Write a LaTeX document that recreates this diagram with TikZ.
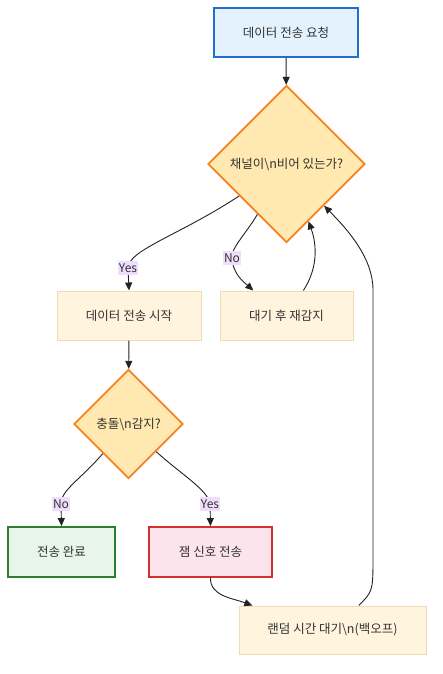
\documentclass[tikz,border=0pt]{standalone}
\usepackage{fontspec}
\setmainfont{Noto Sans CJK KR}
\usetikzlibrary{shapes.geometric,arrows.meta}
\definecolor{txt}{HTML}{333333}
\definecolor{bluef}{HTML}{E3F2FD}
\definecolor{blued}{HTML}{1E6FD0}
\definecolor{diaf}{HTML}{FFE9B0}
\definecolor{diad}{HTML}{F5821F}
\definecolor{plainf}{HTML}{FFF4DD}
\definecolor{plaind}{HTML}{EEDDB0}
\definecolor{greenf}{HTML}{E8F5E9}
\definecolor{greend}{HTML}{2E7D32}
\definecolor{redf}{HTML}{FCE4EC}
\definecolor{redd}{HTML}{D32F2F}
\definecolor{lblf}{HTML}{F0DDFC}
\definecolor{edgec}{HTML}{222222}
\begin{document}
\begin{tikzpicture}[x=1pt,y=1pt,
  font=\fontsize{12.5}{15}\selectfont,
  every node/.style={text=txt},
  boxn/.style={rectangle, inner sep=0pt, align=center},
  plainbox/.style={boxn, fill=plainf, draw=plaind, line width=1pt},
  diam/.style={diamond, inner sep=0pt, align=center, fill=diaf, draw=diad, line width=1.8pt},
  lbl/.style={fill=lblf, inner xsep=0.8pt, inner ysep=3pt, font=\fontsize{12}{14}\selectfont},
  arr/.style={draw=edgec, line width=0.9pt, -{Triangle[length=8pt,width=7pt]}}
]
\useasboundingbox (0,0) rectangle (442,-674);

\node[boxn, fill=bluef, draw=blued, line width=1.8pt, minimum width=144, minimum height=49] (req) at (286,-32.5) {데이터 전송 요청};
\node[diam, minimum width=157, minimum height=157] (d1) at (286.5,-164) {채널이\textbackslash n비어 있는가?};
\node[plainbox, minimum width=144, minimum height=49] (start) at (129,-315.5) {데이터 전송 시작};
\node[plainbox, minimum width=133, minimum height=49] (wait) at (286.5,-315.5) {대기 후 재감지};
\node[diam, minimum width=109, minimum height=109] (d2) at (128.5,-424) {충돌\textbackslash n감지?};
\node[boxn, fill=greenf, draw=greend, line width=1.8pt, minimum width=107, minimum height=50] (done) at (61.5,-552) {전송 완료};
\node[boxn, fill=redf, draw=redd, line width=1.8pt, minimum width=123, minimum height=50] (jam) at (210.5,-552) {잼 신호 전송};
\node[plainbox, minimum width=187, minimum height=48] (back) at (332.5,-630) {랜덤 시간 대기\textbackslash n(백오프)};

\coordinate (yes1) at (128,-268);
\coordinate (no1) at (232,-258);
\coordinate (no2) at (61,-504);
\coordinate (yes2) at (210,-504);

\draw[arr] (req) -- (d1);
\draw[arr] (d1.214) .. controls (180,-235) and (128,-250) .. (yes1) -- (start.north);
\draw[arr] (d1.240) .. controls (245,-235) and (231,-248) .. (no1) .. controls (233,-275) and (245,-283) .. (wait.143.8);
\draw[arr] (wait.56) .. controls (318,-268) and (317,-245) .. (d1.-69);
\draw[arr] (start) -- (d2);
\draw[arr] (d2.229) .. controls (80,-480) and (61,-490) .. (no2) -- (done.north);
\draw[arr] (d2.-45) .. controls (182,-475) and (208,-490) .. (yes2) -- (jam.north);
\draw[arr] (jam.south) .. controls (210,-596) and (232,-598) .. (back.163);
\draw[arr] (back.43) .. controls (372,-592) and (373,-592) .. (373,-560) -- (373,-290) .. controls (373,-258) and (348,-230) .. (d1.-48);

\node[lbl] (lyes1) at (yes1) {Yes};
\node[lbl] (lno1) at (no1) {No};
\node[lbl] (lno2) at (no2) {No};
\node[lbl] (lyes2) at (yes2) {Yes};
\end{tikzpicture}
\end{document}
